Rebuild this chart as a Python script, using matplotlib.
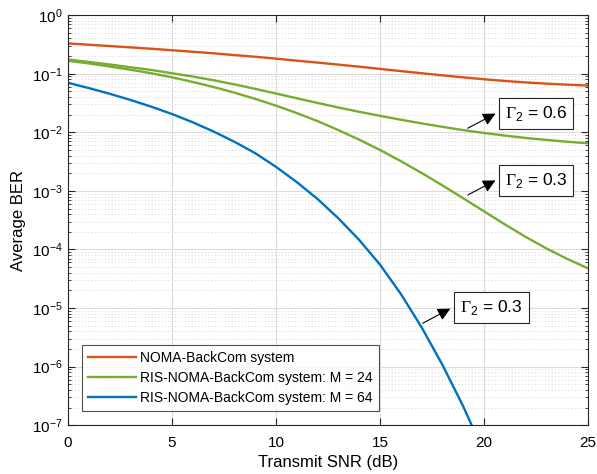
import matplotlib

matplotlib.use("Agg")
import matplotlib.pyplot as plt
import numpy as np
from matplotlib.ticker import LogLocator, NullFormatter

plt.rcParams["font.family"] = ["Liberation Sans", "DejaVu Sans"]
plt.rcParams["mathtext.fontset"] = "custom"
plt.rcParams["mathtext.rm"] = "Liberation Serif"
plt.rcParams["mathtext.sf"] = "Liberation Sans"

# transmit SNR (dB)
snr = list(range(0, 26))

ber_noma = [0.329, 0.313, 0.297, 0.282, 0.267, 0.252, 0.237, 0.223, 0.208, 0.195,
            0.181, 0.167, 0.155, 0.143, 0.132, 0.121, 0.111, 0.102, 0.0940, 0.0867,
            0.0805, 0.0753, 0.0711, 0.0678, 0.0650, 0.0628]

ber_ris24_g06 = [0.175, 0.159, 0.144, 0.129, 0.116, 0.102, 0.0895, 0.0773, 0.0658, 0.0552,
                 0.0459, 0.0381, 0.0317, 0.0265, 0.0224, 0.0191, 0.0164, 0.0142, 0.0124, 0.0109,
                 0.00975, 0.00879, 0.00802, 0.00740, 0.00690, 0.00650]

ber_ris24_g03 = [0.166, 0.150, 0.133, 0.117, 0.102, 0.0867, 0.0724, 0.0593, 0.0475, 0.0372,
                 0.0285, 0.0213, 0.0155, 0.0109, 0.00748, 0.00499, 0.00322, 0.00202, 0.00124, 7.48e-4,
                 4.47e-4, 2.68e-4, 1.64e-4, 1.04e-4, 6.89e-5, 4.76e-5]

snr_m64 = list(range(0, 21))
ber_ris64 = [0.0700, 0.0569, 0.0455, 0.0357, 0.0274, 0.0205, 0.0148, 0.0103, 0.00689, 0.00440,
             0.00257, 0.00141, 7.24e-4, 3.39e-4, 1.45e-4, 5.50e-5, 1.74e-5, 4.68e-6, 1.07e-6, 2.09e-7,
             3.39e-8]

labels = [
  "NOMA-BackCom system",
  "RIS-NOMA-BackCom system: M = 24",
  "RIS-NOMA-BackCom system: M = 64",
]
colors = ["#D95319", "#77AC30", "#0072BD"]

# text arrows: (text, text pos, arrow start, arrow end) in data coords
notes = [
  (r"$\Gamma_{\mathsf{2}}$ = 0.6", (22.5, 10 ** -1.68), (19.22, 10 ** -1.93), (20.55, 10 ** -1.68)),
  (r"$\Gamma_{\mathsf{2}}$ = 0.3", (22.5, 10 ** -2.82), (19.22, 10 ** -3.07), (20.55, 10 ** -2.82)),
  (r"$\Gamma_{\mathsf{2}}$ = 0.3", (20.35, 10 ** -4.99), (17.05, 10 ** -5.26), (18.38, 10 ** -5.01)),
]

fig = plt.figure(figsize=(5.97, 4.74), dpi=100)
ax = fig.add_axes([0.114, 0.103, 0.871, 0.865])

ax.semilogy(snr, ber_noma, color=colors[0], lw=1.7, label=labels[0])
ax.semilogy(snr, ber_ris24_g06, color=colors[1], lw=1.7, label=labels[1])
ax.semilogy(snr, ber_ris24_g03, color=colors[1], lw=1.7)
ax.semilogy(snr_m64, ber_ris64, color=colors[2], lw=1.7, label=labels[2])

ax.set_xlim(0, 25)
ax.set_ylim(1e-7, 1)
ax.set_xticks(np.arange(0, 26, 5))
ax.yaxis.set_major_locator(LogLocator(base=10, numticks=10))
ax.yaxis.set_minor_locator(LogLocator(base=10, subs=np.arange(2, 10), numticks=20))
ax.yaxis.set_minor_formatter(NullFormatter())

ax.grid(True, which="major", color="#dcdcdc", lw=0.8, ls="-")
ax.grid(True, which="minor", axis="y", color="#c8c8c8", lw=0.6, ls=(0, (1, 3)))
ax.set_axisbelow(True)

ax.tick_params(which="both", direction="in", top=True, right=True, labelsize=11, color="#262626")
ax.tick_params(which="major", length=5)
ax.tick_params(which="minor", length=2.5)
ax.tick_params(axis="x", pad=7.5)
ax.tick_params(axis="y", pad=4)
for sp in ax.spines.values():
  sp.set_color("#262626")
  sp.set_linewidth(0.8)

ax.set_xlabel("Transmit SNR (dB)", fontsize=12, labelpad=4)
ax.set_ylabel("Average BER", fontsize=12, labelpad=4)

for txt, pos, start, end in notes:
  ax.annotate("", xy=end, xytext=start,
              arrowprops=dict(arrowstyle="-|>", color="black", lw=0.8, mutation_scale=19,
                              shrinkA=0, shrinkB=0))
  ax.text(pos[0], pos[1], txt, ha="center", va="center", fontsize=12.5,
          bbox=dict(boxstyle="square,pad=0.35", fc="white", ec="#262626", lw=0.8))

leg = ax.legend(loc="lower left", bbox_to_anchor=(0.027, 0.034), fontsize=10, frameon=True,
                fancybox=False, edgecolor="#262626", handlelength=3.4, handletextpad=0.35,
                borderpad=0.45, labelspacing=0.43, borderaxespad=0)
leg.get_frame().set_linewidth(0.8)

fig.savefig("out.png", dpi=100)
